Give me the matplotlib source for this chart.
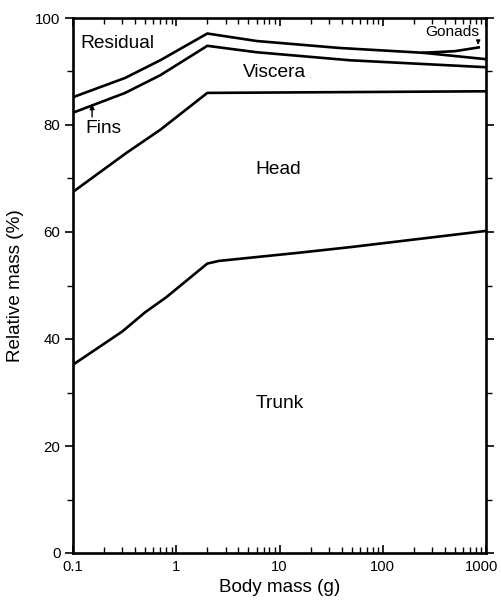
"""Relative mass of body parts against body mass"""

import matplotlib
matplotlib.use("Agg")
import matplotlib.pyplot as plt
import matplotlib.transforms as mtransforms
from matplotlib.ticker import LogLocator, NullFormatter, FixedLocator, FuncFormatter

plt.rcParams['font.family'] = ['Liberation Sans', 'DejaVu Sans']

# boundary between trunk and head
trunk_x = [0.1, 0.3, 0.5, 0.8, 2.0, 2.6, 15, 50, 1000]
trunk_y = [35.2, 41.4, 45.0, 47.8, 54.1, 54.6, 56.1, 57.2, 60.2]

# boundary between head and viscera
head_x = [0.1, 0.33, 0.7, 2.0, 1000]
head_y = [67.5, 74.8, 79.1, 86.0, 86.3]

# boundary between viscera and fins
fins_x = [0.1, 0.32, 0.7, 2.0, 6, 48, 1000]
fins_y = [82.3, 86.0, 89.3, 94.8, 93.6, 92.1, 90.8]

# boundary between fins and residual (viscera top on the right)
visc_x = [0.1, 0.32, 0.7, 2.0, 6, 38, 245, 1000]
visc_y = [85.2, 88.8, 92.1, 97.1, 95.7, 94.4, 93.5, 92.3]

# gonads branch near the largest fish
gonads_x = [245, 500, 850]
gonads_y = [93.5, 93.8, 94.5]

x_ticks = [0.1, 1, 10, 100, 1000]
x_tick_labels = ['0.1', '1', '10', '100', '1000']
y_ticks = [0, 20, 40, 60, 80, 100]

fig = plt.figure(figsize=(5.01, 6.0), dpi=100)
ax = fig.add_axes([73 / 501, 1 - 553 / 600, 413 / 501, 535 / 600])

for xs, ys in [(trunk_x, trunk_y), (head_x, head_y), (fins_x, fins_y),
               (visc_x, visc_y), (gonads_x, gonads_y)]:
    ax.plot(xs, ys, color='black', lw=1.9, solid_joinstyle='round')

ax.set_xscale('log')
ax.set_xlim(0.1, 1000)
ax.set_ylim(0, 100)

ax.xaxis.set_major_locator(FixedLocator(x_ticks))
ax.xaxis.set_major_formatter(FuncFormatter(lambda v, p: x_tick_labels[x_ticks.index(v)] if v in x_ticks else ''))
ax.xaxis.set_minor_locator(LogLocator(base=10, subs=range(2, 10)))
ax.xaxis.set_minor_formatter(NullFormatter())
ax.yaxis.set_major_locator(FixedLocator(y_ticks))
ax.yaxis.set_minor_locator(FixedLocator([10, 30, 50, 70, 90]))

ax.tick_params(axis='x', which='both', direction='in', top=True, labelsize=10.6, pad=5)
ax.tick_params(axis='y', which='both', direction='out', right=True, labelsize=10.8, pad=3)
ax.tick_params(which='major', length=6, width=1.2)
ax.tick_params(which='minor', length=4, width=1.0)
for s in ax.spines.values():
    s.set_linewidth(1.9)

ax.set_xlabel('Body mass (g)', fontsize=13.6, labelpad=4)
ax.set_ylabel('Relative mass (%)', fontsize=13.6, labelpad=8)

# region labels
ax.text(0.27, 95.3, 'Residual', fontsize=13.8, ha='center', va='center')
ax.text(9.0, 89.9, 'Viscera', fontsize=13.8, ha='center', va='center')
ax.text(9.7, 71.6, 'Head', fontsize=13.8, ha='center', va='center')
ax.text(10.1, 28.0, 'Trunk', fontsize=13.8, ha='center', va='center')
ax.text(0.195, 79.4, 'Fins', fontsize=13.8, ha='center', va='center')
ax.text(467, 97.4, 'Gonads', fontsize=11.1, ha='center', va='center')

ax.annotate('', xy=(0.153, 84.4), xytext=(0.153, 81.0),
            arrowprops=dict(arrowstyle='-|>', color='black', lw=1.0, mutation_scale=7))
ax.annotate('', xy=(840, 94.5), xytext=(840, 96.0),
            arrowprops=dict(arrowstyle='-|>', color='black', lw=0.9, mutation_scale=6))

# keep the "1000" label inside the figure
fig.canvas.draw()
last = ax.xaxis.get_major_ticks()[-1].label1
last.set_transform(last.get_transform()
                   + mtransforms.ScaledTranslation(-3 / 72, 0, fig.dpi_scale_trans))

fig.savefig('out.png', dpi=100)
